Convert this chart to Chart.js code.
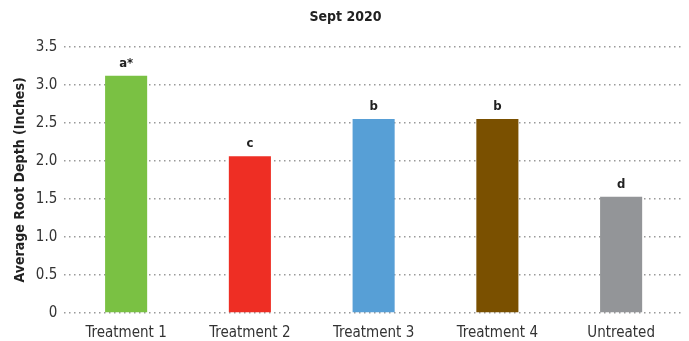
<!DOCTYPE html>
<html>
<head>
<meta charset="utf-8">
<script src="https://cdn.jsdelivr.net/npm/chart.js@4"></script>
<style>
  html, body { margin: 0; padding: 0; background: #fff; }
  #wrap { width: 689px; height: 341px; position: relative; }
</style>
</head>
<body>
<div id="wrap"><canvas id="chartBar"></canvas></div>
<script>
// data
const categories = ['Treatment 1', 'Treatment 2', 'Treatment 3', 'Treatment 4', 'Untreated'];
const rootDepth = [3.12, 2.06, 2.55, 2.55, 1.53];
const letters = ['a*', 'c', 'b', 'b', 'd'];
const barColors = ['#7ac143', '#ee2e24', '#579fd6', '#7a5000', '#939598'];

const FONT = '"DejaVu Sans Condensed", "DejaVu Sans", sans-serif';

// letters above bars
const letterPlugin = {
  id: 'letters',
  afterDatasetsDraw(chart) {
    const ctx = chart.ctx;
    const meta = chart.getDatasetMeta(0);
    ctx.save();
    ctx.font = 'bold 13px ' + FONT;
    ctx.fillStyle = '#222';
    ctx.textAlign = 'center';
    ctx.textBaseline = 'bottom';
    meta.data.forEach((bar, i) => {
      ctx.fillText(letters[i], bar.x, bar.y - 6);
    });
    ctx.restore();
  }
};

function chartBar() {
  const ctx = document.getElementById('chartBar').getContext('2d');
  new Chart(ctx, {
    type: 'bar',
    data: {
      labels: categories,
      datasets: [{
        data: rootDepth,
        backgroundColor: barColors,
        barPercentage: 0.68,
        categoryPercentage: 0.5
      }]
    },
    options: {
      responsive: true,
      maintainAspectRatio: false,
      animation: false,
      layout: { padding: { left: 8, right: 6, top: 2, bottom: -5 } },
      plugins: {
        legend: { display: false },
        tooltip: { enabled: false },
        title: {
          display: true,
          text: 'Sept 2020',
          color: '#222',
          font: { family: FONT, size: 14, weight: 'bold' },
          padding: { top: 7, bottom: 21 }
        }
      },
      scales: {
        x: {
          grid: { display: false },
          border: { display: false },
          ticks: { color: '#333', font: { family: FONT, size: 15, lineHeight: 1 }, padding: 5 }
        },
        y: {
          min: 0,
          max: 3.5,
          ticks: {
            stepSize: 0.5,
            color: '#333',
            padding: 7,
            font: { family: FONT, size: 15 },
            callback: v => v === 0 ? '0' : v.toFixed(1)
          },
          grid: {
            color: '#999',
            lineWidth: 1.5,
            drawTicks: false
          },
          border: { display: false, dash: [1.5, 3.5] },
          title: {
            display: true,
            text: 'Average Root Depth (Inches)',
            color: '#222',
            font: { family: FONT, size: 14, weight: 'bold' },
            padding: { bottom: 0 }
          }
        }
      }
    },
    plugins: [letterPlugin]
  });
}

chartBar();
</script>
</body>
</html>
